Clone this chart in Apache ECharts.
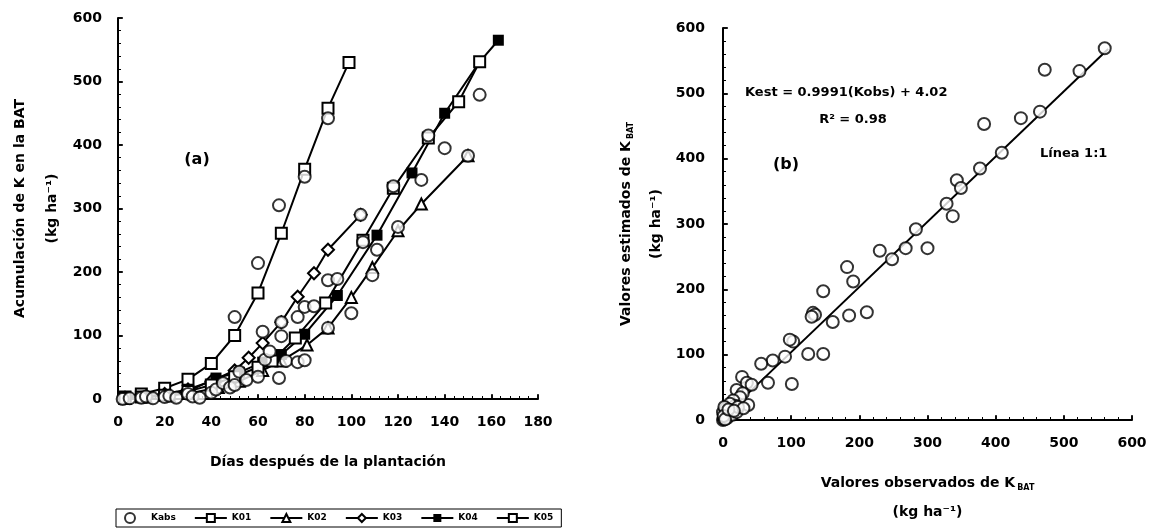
<!DOCTYPE html>
<html>
<head>
<meta charset="utf-8">
<script src="https://cdn.jsdelivr.net/npm/echarts@6/dist/echarts.min.js"></script>
<style>
  html, body { margin: 0; padding: 0; background: #fff; }
  #chart { width: 1162px; height: 529px; }
</style>
</head>
<body>
<div id="chart"></div>
<script>
// (a) accumulation of K in the BAT vs days after planting
const kabs = [
  [2, 0], [5, 1], [10, 2], [12, 4], [15, 1], [20, 3], [22, 5], [25, 2], [30, 8], [32, 4],
  [35, 2], [40, 10], [42, 15], [45, 25], [48, 18], [50, 22], [50, 129], [52, 43], [55, 30],
  [60, 35], [60, 214], [62, 106], [63, 62], [65, 75], [69, 33], [69, 305], [70, 99], [70, 121],
  [72, 60], [77, 58], [77, 129], [80, 61], [80, 145], [80, 350], [84, 146], [90, 112],
  [90, 187], [90, 442], [94, 189], [100, 135], [104, 290], [105, 247], [109, 195], [111, 235],
  [118, 335], [120, 271], [130, 345], [133, 415], [140, 395], [150, 383], [155, 479]
];
const k01 = [[3, 3], [10, 8], [20, 17], [30, 31], [40, 56], [50, 100], [60, 167], [70, 261], [80, 362], [90, 458], [99, 530]];
const k02 = [[3, 1], [12, 3], [22, 5], [32, 10], [43, 18], [52, 28], [62, 45], [70, 60], [81, 85], [90, 112], [100, 160], [109, 207], [120, 265], [130, 307], [150, 383]];
const k03 = [[3, 2], [12, 4], [20, 8], [30, 15], [40, 28], [50, 45], [56, 65], [62, 88], [70, 121], [77, 161], [84, 198], [90, 235], [104, 290]];
const k04 = [[3, 1], [10, 3], [20, 6], [30, 12], [42, 33], [52, 42], [62, 58], [70, 70], [80, 102], [94, 163], [111, 258], [126, 356], [140, 450], [155, 531], [163, 565]];
const k05 = [[3, 1], [10, 3], [20, 6], [30, 12], [40, 22], [50, 35], [60, 50], [66, 60], [76, 96], [89, 151], [105, 250], [118, 332], [133, 411], [146, 468], [155, 531]];
const legendNames = ['Kabs', 'K01', 'K02', 'K03', 'K04', 'K05'];

// (b) observed vs estimated K
const obsEst = [
  [560, 569], [523, 534], [472, 536], [465, 472], [437, 462], [383, 453], [409, 409], [377, 385],
  [343, 367], [349, 355], [328, 331], [337, 312], [283, 292], [230, 259], [248, 246], [268, 263],
  [300, 263], [191, 212], [182, 234], [211, 165], [185, 160], [161, 150], [147, 197], [132, 164],
  [135, 161], [130, 158], [147, 101], [125, 101], [103, 120], [98, 123], [91, 97], [73, 91],
  [56, 86], [101, 55], [66, 57], [28, 66], [35, 57], [42, 54], [37, 23], [20, 46], [29, 41],
  [25, 35], [15, 30], [18, 22], [10, 25], [12, 15], [8, 10], [5, 5], [3, 15], [2, 8], [0, 0],
  [1, 2], [0, 12], [4, 18], [6, 3], [14, 8], [20, 12], [22, 20], [30, 18], [2, 20], [1, 6],
  [3, 1], [8, 16], [16, 14]
];
const fitLine = [[0, 4], [565, 568]];

const FONT = 'DejaVu Sans';
const tickLabel = { fontFamily: FONT, fontWeight: 'bold', fontSize: 14, color: '#000' };
const axisLine = { show: true, lineStyle: { color: '#000', width: 2 } };

function mainAxis(extra) {
  return Object.assign({
    type: 'value', min: 0, interval: 100, max: 600,
    axisLine: axisLine,
    axisTick: { show: true, inside: true, length: 5, lineStyle: { color: '#000', width: 1.5 } },
    minorTick: { show: true, splitNumber: 5, length: 3, lineStyle: { color: '#000', width: 1 } },
    splitLine: { show: false },
    axisLabel: Object.assign({ margin: 16 }, tickLabel)
  }, extra);
}
// second copy of an axis that only draws the outside half of the major ticks
function tickAxis(extra) {
  return Object.assign({
    type: 'value', min: 0, interval: 100, max: 600,
    axisLine: { show: false },
    axisTick: { show: true, inside: false, length: 4, lineStyle: { color: '#000', width: 1.5 } },
    axisLabel: { show: false },
    splitLine: { show: false }
  }, extra);
}

const nameStyle = { fontFamily: FONT, fontWeight: 'bold', fontSize: 14, color: '#000' };
const subRich = { sub: { fontFamily: FONT, fontWeight: 'bold', fontSize: 8, verticalAlign: 'middle', padding: [9, 0, 0, 2], color: '#000' } };

const chart = echarts.init(document.getElementById('chart'));

const option = {
  animation: false,
  backgroundColor: '#fff',
  grid: [
    { left: 118, top: 18, width: 420, height: 381, outerBoundsMode: 'none' },
    { left: 723, top: 28, width: 409, height: 392, outerBoundsMode: 'none' }
  ],
  xAxis: [
    mainAxis({
      gridIndex: 0, max: 180, interval: 20,
      name: 'Días después de la plantación', nameLocation: 'middle', nameGap: 55,
      nameTextStyle: Object.assign({ lineHeight: 16 }, nameStyle)
    }),
    mainAxis({
      gridIndex: 1,
      name: 'Valores observados de K{sub|BAT}\n(kg ha⁻¹)', nameLocation: 'middle', nameGap: 49,
      nameTextStyle: Object.assign({ lineHeight: 29, rich: subRich }, nameStyle)
    }),
    tickAxis({ gridIndex: 0, max: 180, interval: 20 }),
    tickAxis({ gridIndex: 1 })
  ],
  yAxis: [
    mainAxis({
      gridIndex: 0,
      name: 'Acumulación de K en la BAT\n(kg ha⁻¹)', nameLocation: 'middle', nameGap: 50,
      nameTextStyle: Object.assign({ lineHeight: 32 }, nameStyle)
    }),
    mainAxis({
      gridIndex: 1,
      axisLabel: Object.assign({ margin: 18 }, tickLabel),
      name: 'Valores estimados de K{sub|BAT}\n(kg ha⁻¹)', nameLocation: 'middle', nameGap: 52,
      nameTextStyle: Object.assign({ lineHeight: 30, rich: subRich }, nameStyle)
    }),
    tickAxis({ gridIndex: 0 }),
    tickAxis({ gridIndex: 1 })
  ],
  legend: {
    left: 116, top: 509,
    data: legendNames,
    orient: 'horizontal',
    itemWidth: 32, itemHeight: 10, itemGap: 18,
    padding: [3, 8],
    borderColor: '#000', borderWidth: 1, borderRadius: 0,
    textStyle: { fontFamily: FONT, fontWeight: 'bold', fontSize: 9, color: '#000' }
  },
  series: [
    {
      name: 'Kabs', type: 'scatter', xAxisIndex: 0, yAxisIndex: 0, data: kabs,
      symbol: 'emptyCircle', symbolSize: 12, z: 5,
      itemStyle: { color: '#000', borderColor: '#000', borderWidth: 2 }
    },
    {
      name: 'K01', type: 'line', xAxisIndex: 0, yAxisIndex: 0, data: k01,
      symbol: 'emptyRect', symbolSize: 11,
      lineStyle: { color: '#000', width: 2 },
      itemStyle: { color: '#000', borderColor: '#000', borderWidth: 2 }
    },
    {
      name: 'K02', type: 'line', xAxisIndex: 0, yAxisIndex: 0, data: k02,
      symbol: 'emptyTriangle', symbolSize: 11,
      lineStyle: { color: '#000', width: 2 },
      itemStyle: { color: '#000', borderColor: '#000', borderWidth: 2.5 }
    },
    {
      name: 'K03', type: 'line', xAxisIndex: 0, yAxisIndex: 0, data: k03,
      symbol: 'emptyDiamond', symbolSize: 12,
      lineStyle: { color: '#000', width: 2 },
      itemStyle: { color: '#000', borderColor: '#000', borderWidth: 2.5 }
    },
    {
      name: 'K04', type: 'line', xAxisIndex: 0, yAxisIndex: 0, data: k04,
      symbol: 'rect', symbolSize: 11,
      lineStyle: { color: '#000', width: 2 },
      itemStyle: { color: '#000' }
    },
    {
      name: 'K05', type: 'line', xAxisIndex: 0, yAxisIndex: 0, data: k05,
      symbol: 'emptyRect', symbolSize: 11,
      lineStyle: { color: '#000', width: 2 },
      itemStyle: { color: '#000', borderColor: '#000', borderWidth: 2 }
    },
    {
      name: 'obs-est', type: 'scatter', xAxisIndex: 1, yAxisIndex: 1, data: obsEst,
      symbol: 'emptyCircle', symbolSize: 12, z: 5,
      itemStyle: { color: '#000', borderColor: '#000', borderWidth: 2 }
    },
    {
      name: 'fit', type: 'line', xAxisIndex: 1, yAxisIndex: 1, data: fitLine,
      symbol: 'none', lineStyle: { color: '#000', width: 2 }
    }
  ],
  graphic: [
    { type: 'text', x: 197, y: 160, style: { text: '(a)', font: 'bold 16px "DejaVu Sans"', fill: '#000', align: 'center', verticalAlign: 'middle' } },
    { type: 'text', x: 786, y: 165, style: { text: '(b)', font: 'bold 16px "DejaVu Sans"', fill: '#000', align: 'center', verticalAlign: 'middle' } },
    { type: 'text', x: 745, y: 93, style: { text: 'Kest = 0.9991(Kobs) + 4.02', font: 'bold 13px "DejaVu Sans"', fill: '#000', align: 'left', verticalAlign: 'middle' } },
    { type: 'text', x: 853, y: 120, style: { text: 'R² = 0.98', font: 'bold 13px "DejaVu Sans"', fill: '#000', align: 'center', verticalAlign: 'middle' } },
    { type: 'text', x: 1040, y: 154, style: { text: 'Línea 1:1', font: 'bold 13px "DejaVu Sans"', fill: '#000', align: 'left', verticalAlign: 'middle' } }
  ]
};

chart.setOption(option);
</script>
</body>
</html>
